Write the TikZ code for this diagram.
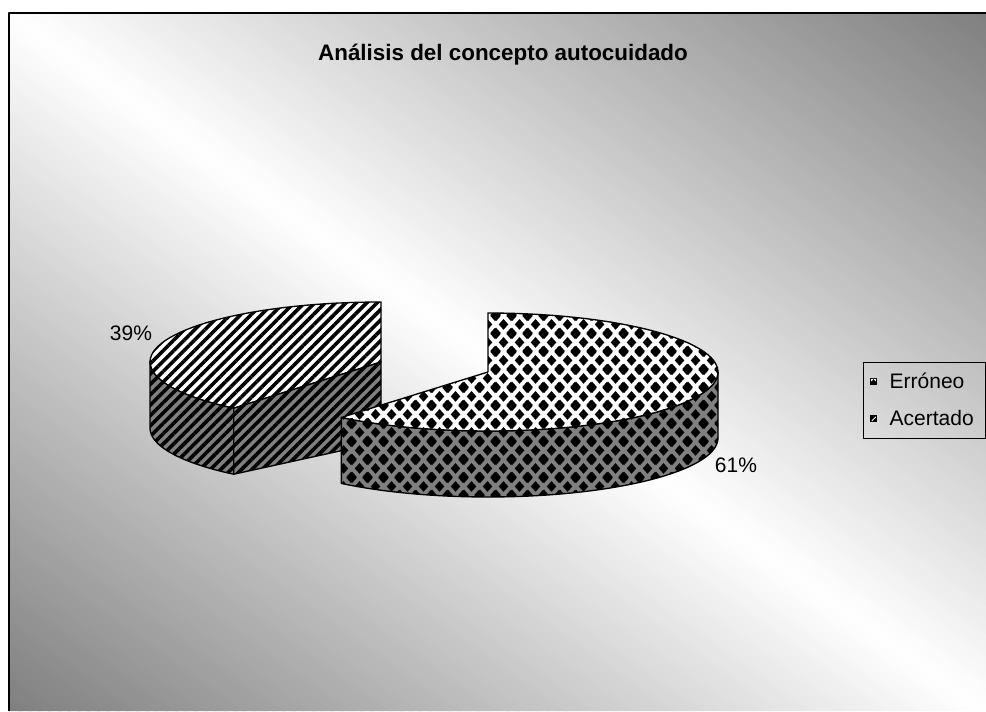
\documentclass[tikz,border=0pt]{standalone}
\usepackage{fontspec}
\setmainfont{Liberation Sans}
\usetikzlibrary{patterns,patterns.meta}

% узор ромбами
\pgfdeclarepatternformonly{rombos}{\pgfpointorigin}{\pgfpoint{12pt}{13.5pt}}{\pgfpoint{12pt}{13.5pt}}{%
  \foreach \cx/\cy in {0/0,12/0,0/13.5,12/13.5,6/6.75}{%
    \pgfpathmoveto{\pgfpoint{\cx pt-3.8pt}{\cy pt}}%
    \pgfpathlineto{\pgfpoint{\cx pt}{\cy pt+4.2pt}}%
    \pgfpathlineto{\pgfpoint{\cx pt+3.8pt}{\cy pt}}%
    \pgfpathlineto{\pgfpoint{\cx pt}{\cy pt-4.2pt}}%
    \pgfpathclose}%
  \pgfusepath{fill}}

\tikzset{
  rayas/.style={preaction={fill=#1}, pattern={Lines[angle=45,distance=5.5pt,line width=2.7pt]}},
  rombo/.style={preaction={fill=#1}, pattern=rombos},
  etiqueta/.style={font=\fontsize{15.75}{18}\selectfont, inner sep=0pt}
}

\begin{document}
\begin{tikzpicture}[x=0.75pt, y=-0.75pt, line width=1pt, line join=round]
	\useasboundingbox (0, 0) rectangle (986, 711);
	
	% фон: белый по диагонали, серый в углах
	\begin{scope}
		\clip (9, 13) rectangle (986, 711);
		\foreach \i in {0,...,199}{
			\pgfmathsetmacro\s{-1+0.01*\i}
			\pgfmathsetmacro\g{100*abs(\s+0.005)}
			\fill[gray!\g!white] ({9+977*\s}, 13) -- ({9+977*(\s+1)}, 711)
				-- ({9+977*(\s+1.013)}, 711) -- ({9+977*(\s+0.013)}, 13) -- cycle;
		}
	\end{scope}
	\draw[line width=1.5pt] (9, 711) -- (9, 13) -- (986, 13); % рамка
	
	% сектор 39%
	\draw[rayas=white] (381, 362) -- (233.8, 408.2)
		-- plot[domain=219.6:360, samples=50] ({381+231*sin(\x)}, {362-60*cos(\x)}) -- cycle; % верх
	\draw[rayas=gray] plot[domain=219.6:270, samples=30] ({381+231*sin(\x)}, {362-60*cos(\x)})
		-- plot[domain=270:219.6, samples=30] ({381+231*sin(\x)}, {428-60*cos(\x)}) -- cycle; % бок
	\draw[rayas=gray] (381, 362) -- (233.8, 408.2) -- (233.8, 474.2) -- (381, 442) -- cycle; % срез
	
	% сектор 61%
	\draw[rombo=gray] plot[domain=90:219.6, samples=50] ({488+230*sin(\x)}, {372-59*cos(\x)})
		-- plot[domain=219.6:90, samples=50] ({488+230*sin(\x)}, {438-59*cos(\x)}) -- cycle; % бок
	\draw[rombo=white] (488, 372) -- (488, 313)
		-- plot[domain=0:219.6, samples=70] ({488+230*sin(\x)}, {372-59*cos(\x)}) -- cycle; % верх
	
	% подписи
	\node[font=\fontsize{16.8}{20}\selectfont\bfseries, inner sep=0pt] (titulo) at (503, 55) {Análisis del concepto autocuidado};
	\node[etiqueta] (p39) at (131, 333) {39\%};
	\node[etiqueta] (p61) at (736, 465) {61\%};
	
	% легенда
	\draw[line width=0.6pt] (863, 362) rectangle (985, 438);
	\fill (870, 378) rectangle (877, 385); % маркер Erróneo
	\fill[white] (870.8, 378.8) -- (873.5, 378.8) -- (871.5, 381.5) -- cycle;
	\fill[white] (876.2, 378.8) -- (873.5, 378.8) -- (875.5, 381.5) -- cycle;
	\fill (870, 415) rectangle (877, 422); % маркер Acertado
	\fill[white] (871.5, 420.5) -- (875.5, 416.5) -- (876.2, 416.5) -- (876.2, 417.2) -- (872.2, 421.2) -- (871.5, 421.2) -- cycle;
	\node[etiqueta, anchor=west] (err) at (889, 381) {Erróneo};
	\node[etiqueta, anchor=west] (ace) at (889, 418) {Acertado};
\end{tikzpicture}
\end{document}
